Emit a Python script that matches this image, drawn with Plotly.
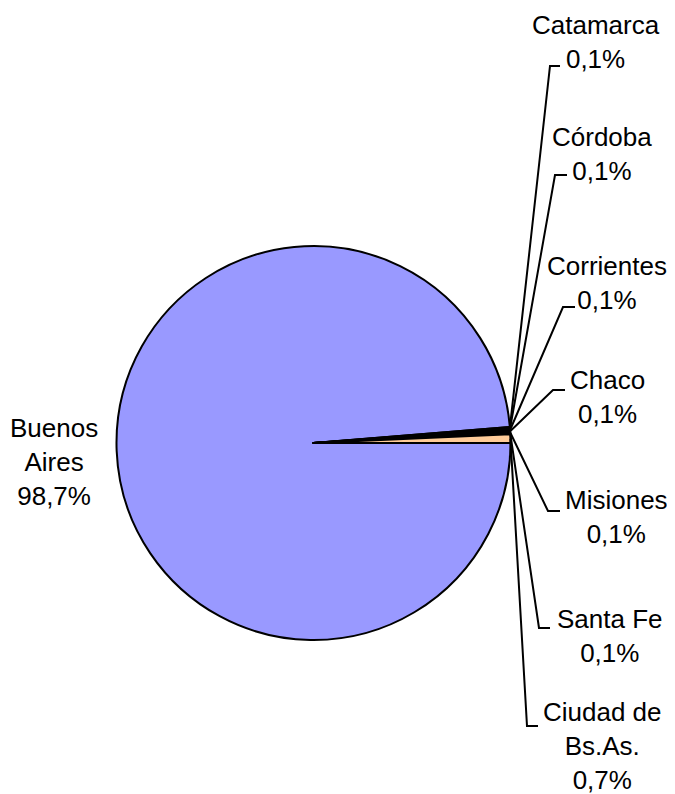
import math
import plotly.graph_objects as go

# ---- data ----
labels = ["Buenos Aires", "Catamarca", "Córdoba", "Corrientes", "Chaco",
          "Misiones", "Santa Fe", "Ciudad de Bs.As."]
label_lines = ["Buenos<br>Aires", "Catamarca", "Córdoba", "Corrientes", "Chaco",
               "Misiones", "Santa Fe", "Ciudad de<br>Bs.As."]
values = [98.7, 0.1, 0.1, 0.1, 0.1, 0.1, 0.1, 0.7]

# ---- styles / layout ----
colors = ["#9999FF", "#993366", "#FFFFCC", "#CCFFFF", "#660066",
          "#FF8080", "#0066CC", "#FFCC99"]
OFF = 8  # page body margin in the browser
W, H = 675 - OFF, 794 - OFF
cx, cy, R = 313.5, 443.0, 197.0
lab_x = [54, 596, 602, 607, 607, 616, 610, 602]
lab_y = [462, 42, 154, 283, 397, 517, 636, 746]
elbow_x = [None, 550, 555, 563, 553, 548, 539, 527]
elbow_y = [None, 66, 175, 307, 390, 511, 628, 726]
elbow_end = [None, 560, 567, 575, 565, 560, 550, 538]
FONT = "Liberation Sans, Arial, sans-serif"
FS = 26


def px(x):
    return (x - OFF) / W


def py(y):
    return 1 - (y - OFF) / H


fig = go.Figure(go.Pie(
    labels=labels, values=values, sort=False, direction="clockwise", rotation=90,
    marker=dict(colors=colors, line=dict(color="black", width=2)),
    textinfo="none", hoverinfo="label+percent", showlegend=False,
    domain=dict(x=[px(cx - R), px(cx + R)], y=[py(cy + R), py(cy - R)]),
))

total = sum(values)
cum = 0.0
annotations = []
shapes = []
for i, (lbl, v) in enumerate(zip(label_lines, values)):
    pct = f"{v / total * 100:.1f}".replace(".", ",") + "%"
    annotations.append(dict(
        x=px(lab_x[i]), y=py(lab_y[i]), xref="paper", yref="paper",
        text=f"{lbl}<br>{pct}", showarrow=False, align="center",
        xanchor="center", yanchor="middle",
        font=dict(family=FONT, size=FS, color="black"),
    ))
    mid = cum + v / 2
    cum += v
    if elbow_x[i] is None:
        continue
    theta = -2 * math.pi * mid / total  # clockwise from 3 o'clock
    sx = cx + R * math.cos(theta)
    sy = cy - R * math.sin(theta)
    path = (f"M {px(sx)},{py(sy)} L {px(elbow_x[i])},{py(elbow_y[i])} "
            f"L {px(elbow_end[i])},{py(elbow_y[i])}")
    shapes.append(dict(type="path", path=path, xref="paper", yref="paper",
                       line=dict(color="black", width=2)))

fig.update_layout(
    width=W, height=H, margin=dict(l=0, r=0, t=0, b=0),
    paper_bgcolor="white", plot_bgcolor="white",
    annotations=annotations, shapes=shapes,
)

fig.write_html("out.html")
